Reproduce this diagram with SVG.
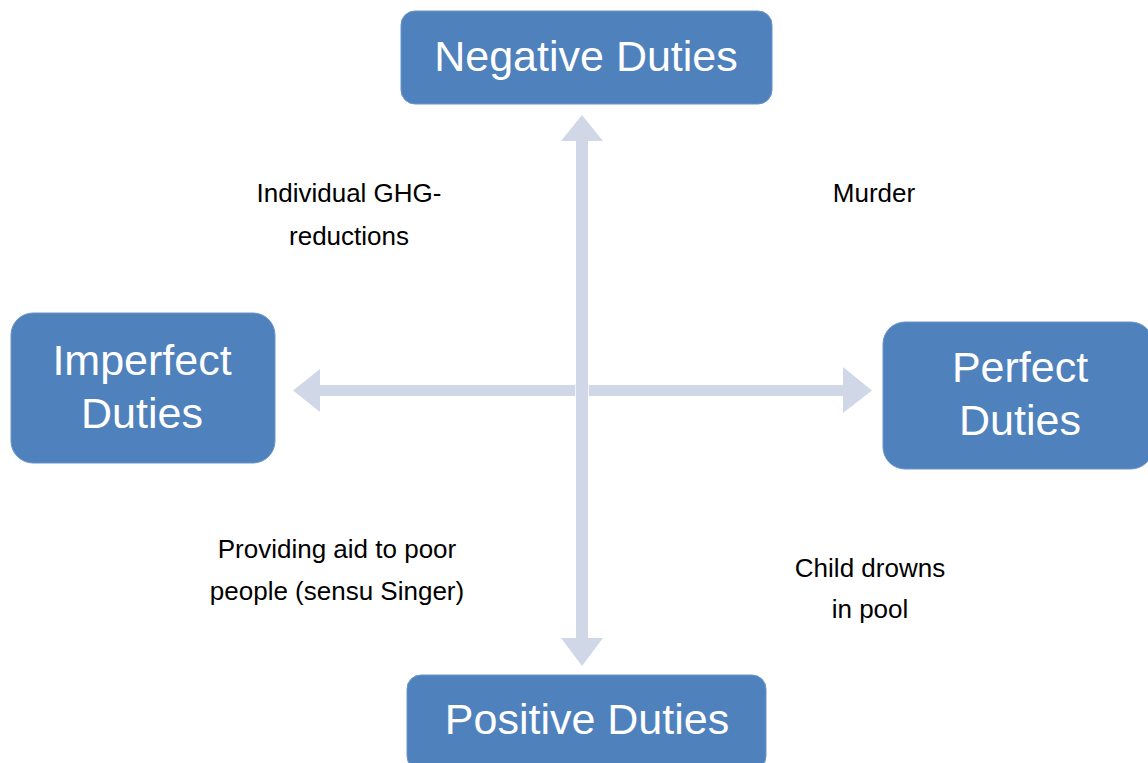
<svg xmlns="http://www.w3.org/2000/svg" width="1148" height="763" viewBox="0 0 1148 763">
<style>
.box{fill:#4F81BD;stroke:#6A95C9;stroke-width:1}
.big{font-family:"Liberation Sans",Arial,sans-serif;font-size:43px;fill:#FFFFFF;text-anchor:middle}
.lbl{font-family:"Liberation Sans",Arial,sans-serif;font-size:26px;fill:#000000;text-anchor:middle}
.arr{fill:#D0D7E7}
</style>
<rect width="1148" height="763" fill="#FFFFFF"/>
<g id="connectors">
<polygon class="arr" points="293,390.5 320,369 320,385 843,385 843,367 872,390.5 843,413 843,396 320,396 320,412"/>
<line x1="575.5" y1="384" x2="575.5" y2="397" stroke="#F2F4F9" stroke-width="1"/>
<line x1="588.5" y1="384" x2="588.5" y2="397" stroke="#F2F4F9" stroke-width="1"/>
<polygon class="arr" points="582,115 603,141 588,141 588,638 603,638 582,666 561,638 576,638 576,141 561,141"/>
</g>
<g id="negative">
<rect class="box" x="401" y="11" width="371" height="93" rx="14"/>
<text class="big" x="586" y="71">Negative Duties</text>
</g>
<g id="imperfect">
<rect class="box" x="11" y="313" width="264" height="150" rx="22"/>
<text class="big" x="142" y="375">Imperfect</text>
<text class="big" x="142" y="428">Duties</text>
</g>
<g id="perfect">
<rect class="box" x="883" y="322" width="270" height="147" rx="22"/>
<text class="big" x="1020" y="382">Perfect</text>
<text class="big" x="1020" y="435">Duties</text>
</g>
<g id="positive">
<rect class="box" x="407" y="675" width="359" height="95" rx="14"/>
<text class="big" x="587" y="734">Positive Duties</text>
</g>
<g id="label-ghg">
<text class="lbl" x="349" y="202">Individual GHG-</text>
<text class="lbl" x="349" y="245">reductions</text>
</g>
<g id="label-murder">
<text class="lbl" x="874" y="202">Murder</text>
</g>
<g id="label-aid">
<text class="lbl" x="337" y="558">Providing aid to poor</text>
<text class="lbl" x="337" y="600">people (sensu Singer)</text>
</g>
<g id="label-child">
<text class="lbl" x="870" y="577">Child drowns</text>
<text class="lbl" x="870" y="618">in pool</text>
</g>
</svg>
